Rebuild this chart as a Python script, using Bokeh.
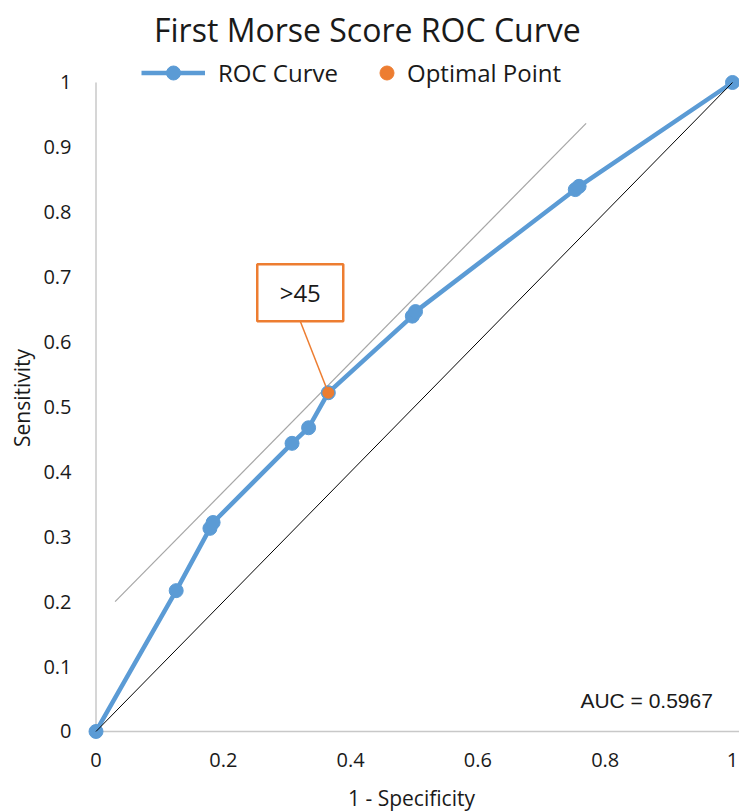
from bokeh.plotting import figure
from bokeh.models import Range1d, FixedTicker, Legend, LegendItem, Label
from bokeh.embed import file_html
from bokeh.resources import INLINE

# ---- data ----
fpr = [0, 0.126, 0.179, 0.184, 0.308, 0.334, 0.365, 0.497, 0.502, 0.753, 0.759, 1]
tpr = [0, 0.217, 0.313, 0.322, 0.444, 0.468, 0.522, 0.640, 0.647, 0.835, 0.840, 1]
opt_x = [0.365]
opt_y = [0.522]
opt_label = ">45"
tangent_x = [0.03, 0.77]
tangent_y = [0.20, 0.937]
chance_x = [0, 1]
chance_y = [0, 1]
auc_text = "AUC = 0.5967"
x_ticks = [0, 0.2, 0.4, 0.6, 0.8, 1]
x_tick_labels = ["0", "0.2", "0.4", "0.6", "0.8", "1"]
y_ticks = [0, 0.1, 0.2, 0.3, 0.4, 0.5, 0.6, 0.7, 0.8, 0.9, 1]
y_tick_labels = ["0", "0.1", "0.2", "0.3", "0.4", "0.5", "0.6", "0.7", "0.8", "0.9", "1"]

BLUE = "#5B9BD5"
ORANGE = "#ED7D31"
FONT = "Open Sans"
TXT = "#1a1a1a"

p = figure(frame_width=656, frame_height=685,
           min_border_left=83, min_border_right=0, min_border_top=0, min_border_bottom=0,
           x_range=Range1d(-0.01964, 1.011), y_range=Range1d(-0.0139, 1.0416),
           output_backend="svg", toolbar_location=None,
           title="First Morse Score ROC Curve")
p.outline_line_color = None
p.grid.visible = False

p.title.align = "left"
p.title.offset = 70.5
p.title.text_font = FONT
p.title.text_font_size = "32px"
p.title.text_font_style = "normal"
p.title.text_color = TXT

for ax in (p.xaxis[0], p.yaxis[0]):
    ax.axis_line_color = None
    ax.major_tick_line_color = None
    ax.minor_tick_line_color = None
    ax.major_label_text_font = FONT
    ax.major_label_text_font_size = "20px"
    ax.major_label_text_color = TXT
    ax.axis_label_text_font = FONT
    ax.axis_label_text_font_size = "21px"
    ax.axis_label_text_font_style = "normal"
    ax.axis_label_text_color = TXT

p.xaxis.ticker = FixedTicker(ticks=x_ticks)
p.xaxis.major_label_overrides = {t: l for t, l in zip(x_ticks, x_tick_labels)}
p.yaxis.ticker = FixedTicker(ticks=y_ticks)
p.yaxis.major_label_overrides = {t: l for t, l in zip(y_ticks, y_tick_labels)}
p.xaxis.axis_label = "1 - Specificity"
p.yaxis.axis_label = "Sensitivity"
p.xaxis.major_label_standoff = 6
p.xaxis.axis_label_standoff = 14
p.yaxis.major_label_standoff = 6
p.yaxis.axis_label_standoff = 4

# gray axis lines at x=0 and y=0
p.segment(x0=[0, 0], y0=[0, 0], x1=[0, 1.011], y1=[1, 0], line_color="#C8C8C8", line_width=1.5)

# tangent line
p.line(tangent_x, tangent_y, line_color="#A6A6A6", line_width=1.2)

# ROC curve
roc_line = p.line(fpr, tpr, line_color=BLUE, line_width=4.5)
roc_pts = p.scatter(fpr, tpr, size=14, fill_color=BLUE, line_color=BLUE)
opt_pt = p.scatter(opt_x, opt_y, size=11, fill_color=ORANGE, line_color=ORANGE)

# chance diagonal
p.line(chance_x, chance_y, line_color="black", line_width=1)

# annotation callout
box_x = 0.3209
box_y = 0.676
p.segment(x0=[box_x], y0=[0.632], x1=opt_x, y1=opt_y, line_color=ORANGE, line_width=1.5)
p.rect(x=[box_x], y=[box_y], width=86, height=57, width_units="screen", height_units="screen",
       fill_color="white", line_color=ORANGE, line_width=2.5)
p.add_layout(Label(x=box_x, y=box_y, text=opt_label, text_align="center", text_baseline="middle",
                   text_font=FONT, text_font_size="24px", text_color=TXT))

p.add_layout(Label(x=0.761, y=0.048, text=auc_text, text_align="left", text_baseline="middle",
                   text_font="Liberation Sans", text_font_size="21px", text_color=TXT))

# legends
leg1 = Legend(items=[LegendItem(label="ROC Curve", renderers=[roc_line, roc_pts])],
              location=(58, 650), orientation="horizontal", glyph_width=64, glyph_height=35,
              label_standoff=13, padding=0, margin=0, border_line_color=None,
              background_fill_alpha=0, label_text_font=FONT, label_text_font_size="24px",
              label_text_color=TXT)
leg2 = Legend(items=[LegendItem(label="Optimal Point", renderers=[opt_pt])],
              location=(286, 650), orientation="horizontal", glyph_width=35, glyph_height=35,
              label_standoff=3, padding=0, margin=0, border_line_color=None,
              background_fill_alpha=0, label_text_font=FONT, label_text_font_size="24px",
              label_text_color=TXT)
p.add_layout(leg1)
p.add_layout(leg2)

open("out.html", "w").write(file_html(p, INLINE))
